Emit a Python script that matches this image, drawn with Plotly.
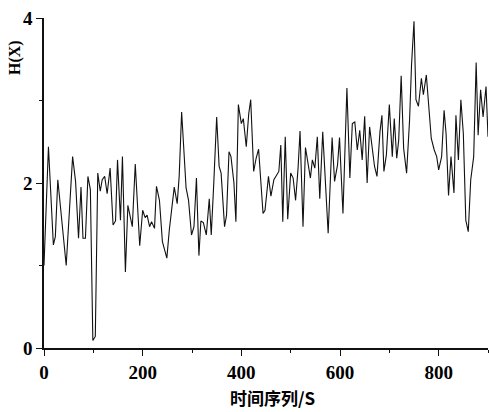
import plotly.graph_objects as go

t = [0, 9, 19, 23, 28, 38, 45, 58, 64, 70,
     75, 79, 84, 89, 94, 99, 104, 109, 114, 118,
     123, 128, 134, 140, 145, 149, 155, 159, 165, 170,
     179, 185, 194, 200, 205, 209, 214, 218, 224, 228,
     234, 240, 249, 254, 264, 270, 274, 279, 288, 293,
     299, 304, 309, 314, 318, 323, 329, 335, 339, 344,
     350, 355, 359, 366, 370, 375, 379, 385, 389, 394,
     400, 404, 410, 415, 419, 425, 430, 435, 440, 444,
     448, 455, 460, 466, 472, 476, 480, 484, 489, 494,
     500, 505, 510, 515, 519, 525, 530, 535, 540, 544,
     549, 554, 559, 565, 570, 576, 584, 589, 595, 599,
     606, 614, 620, 625, 630, 635, 640, 645, 650, 655,
     660, 665, 670, 675, 681, 685, 689, 694, 700, 706,
     710, 715, 719, 724, 729, 735, 741, 745, 750, 754,
     759, 765, 769, 775, 780, 785, 791, 796, 800, 806,
     811, 815, 820, 825, 831, 835, 840, 845, 850, 855,
     860, 865, 871, 876, 880, 885, 890, 896, 900]

h = [1.00, 2.44, 1.25, 1.35, 2.04, 1.47, 1.00, 2.32, 2.02, 1.33,
     1.95, 1.33, 1.33, 2.08, 1.92, 0.09, 0.14, 2.12, 1.90, 2.04,
     2.08, 1.87, 2.18, 1.49, 1.54, 2.28, 1.55, 2.32, 0.92, 1.73,
     1.47, 2.23, 1.24, 1.67, 1.58, 1.61, 1.47, 1.53, 1.45, 1.96,
     1.79, 1.29, 1.09, 1.43, 1.95, 1.75, 2.08, 2.86, 1.94, 1.79,
     1.37, 1.47, 2.06, 1.12, 1.54, 1.52, 1.37, 1.81, 1.37, 1.98,
     2.80, 2.20, 2.12, 1.47, 1.61, 2.38, 2.32, 2.00, 1.53, 2.95,
     2.72, 2.78, 2.44, 2.84, 3.01, 2.14, 2.30, 2.41, 2.00, 1.63,
     1.67, 2.08, 1.84, 2.04, 2.10, 2.14, 2.46, 1.53, 2.56, 1.56,
     2.12, 2.06, 1.79, 2.18, 2.63, 1.47, 2.43, 2.22, 2.06, 2.28,
     2.18, 2.56, 1.81, 2.62, 2.04, 1.39, 2.55, 2.02, 2.22, 2.55,
     1.63, 3.15, 2.06, 2.72, 2.74, 2.40, 2.64, 2.28, 2.81, 2.00,
     2.68, 2.44, 2.20, 2.08, 2.62, 2.82, 2.14, 2.34, 2.95, 2.32,
     2.78, 2.30, 2.52, 3.30, 2.42, 2.12, 2.76, 3.43, 3.96, 3.01,
     2.93, 3.27, 3.07, 3.31, 2.93, 2.54, 2.40, 2.32, 2.16, 2.32,
     2.88, 2.60, 1.85, 2.32, 1.88, 2.82, 2.28, 3.01, 2.60, 1.55,
     1.41, 2.04, 2.32, 3.46, 2.58, 3.13, 2.80, 3.17, 2.56]

x_ticks = [0, 200, 400, 600, 800]
y_ticks = [0, 2, 4]
x_title = "时间序列/S"
y_title = "H(X)"

ML, MR, MT, MB = 44, 1, 18, 64
W, H = 489, 412

fig = go.Figure()
fig.add_trace(go.Scatter(x=t, y=h, mode="lines",
                         line=dict(color="#111111", width=1.1),
                         showlegend=False, hoverinfo="skip", cliponaxis=False))

tickfont = dict(family="Liberation Serif", size=19, color="#000000")
fig.update_layout(
    width=W, height=H,
    margin=dict(l=ML, r=MR, t=MT, b=MB, autoexpand=False),
    paper_bgcolor="white", plot_bgcolor="white",
    xaxis=dict(range=[0, 900], tickvals=x_ticks, ticktext=[f"<b>{v}</b>" for v in x_ticks],
               automargin=False,
               showline=True, linecolor="#111111", linewidth=1.6, mirror=False,
               ticks="outside", ticklen=6, tickwidth=1.4, tickcolor="#111111",
               showgrid=False, zeroline=False, tickfont=tickfont,
               minor=dict(tickvals=[100, 300, 500, 700, 900], ticks="outside",
                          ticklen=3, tickwidth=1.2, tickcolor="#111111", showgrid=False)),
    yaxis=dict(range=[0, 4], tickvals=y_ticks, ticktext=[f"<b>{v}</b>" for v in y_ticks],
               automargin=False,
               showline=True, linecolor="#111111", linewidth=1.6,
               ticks="outside", ticklen=6, tickwidth=1.4, tickcolor="#111111",
               showgrid=False, zeroline=False, tickfont=tickfont, ticklabelstandoff=0,
               minor=dict(tickvals=[1, 3], ticks="outside",
                          ticklen=3, tickwidth=1.2, tickcolor="#111111", showgrid=False)),
)

pw, ph = W - ML - MR, H - MT - MB
def px2paper(x, y):
    return (x - ML) / pw, 1 - (y - MT) / ph

ax, ay = px2paper(15, 58)
bx, by = px2paper(272, 397)
fig.add_annotation(text=f"<b>{y_title}</b>", x=ax, y=ay, xref="paper", yref="paper",
                   xanchor="center", yanchor="middle",
                   showarrow=False, textangle=-90,
                   font=dict(family="Liberation Serif", size=16, color="#000000"))
fig.add_annotation(text=f"<b>{x_title}</b>", x=bx, y=by, xref="paper", yref="paper",
                   xanchor="center", yanchor="middle",
                   showarrow=False,
                   font=dict(family="Noto Sans CJK SC", size=17, color="#000000"))

fig.write_html("out.html", config={"displayModeBar": False},
               post_script="document.body.style.margin='0';document.body.style.overflow='hidden';")
